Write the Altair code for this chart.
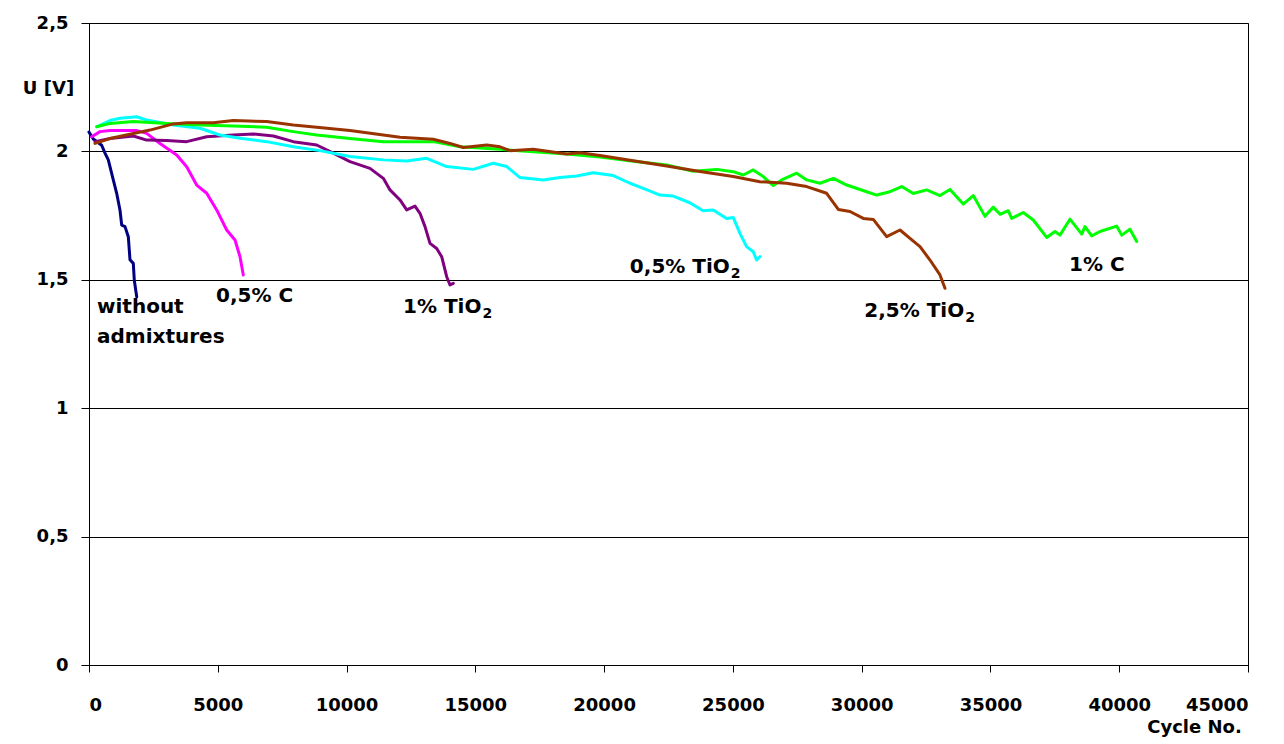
import altair as alt
import pandas as pd

# ---- data ----
series_names = ["1% C", "0,5% TiO2", "2,5% TiO2", "1% TiO2", "0,5% C", "without admixtures"]
series_colors = ["#00FF00", "#00FFFF", "#993300", "#800080", "#FF00FF", "#000080"]

wa_x = [0, 167, 493, 621, 749, 943, 1075, 1204, 1270, 1398, 1526, 1592, 1720, 1759, 1852]
wa_y = [2.075, 2.048, 2.024, 1.993, 1.967, 1.889, 1.837, 1.771, 1.713, 1.707, 1.668, 1.578, 1.564, 1.498, 1.434]

c05_x = [105, 427, 815, 1852, 2240, 2757, 3405, 3793, 4181, 4570, 4958, 5346, 5669, 5863, 5991]
c05_y = [2.057, 2.077, 2.081, 2.081, 2.070, 2.031, 1.986, 1.940, 1.869, 1.837, 1.772, 1.694, 1.655, 1.590, 1.519]

t1_x = [233, 815, 1720, 2240, 3017, 3793, 4570, 5605, 6382, 7159, 7932, 8841, 9486, 10133, 10910,
        11427, 11687, 12075, 12335, 12657, 12851, 13046, 13240, 13500, 13694, 13888, 14016, 14145]
t1_y = [2.038, 2.050, 2.060, 2.044, 2.042, 2.038, 2.057, 2.064, 2.068, 2.060, 2.038, 2.025, 1.993, 1.960, 1.934,
        1.895, 1.850, 1.811, 1.772, 1.787, 1.759, 1.707, 1.642, 1.622, 1.590, 1.512, 1.480, 1.486]

t05_x = [299, 815, 1204, 1852, 2240, 3273, 4310, 5086, 5863, 6899, 7932, 8968, 10133, 11427, 12335, 13111,
         13888, 14921, 15698, 16219, 16734, 17639, 18288, 18936, 19580, 20357, 21005, 21522, 22170, 22686,
         23327, 23845, 24236, 24756, 25014, 25272, 25532, 25791, 25921, 26050]
t05_y = [2.096, 2.120, 2.129, 2.135, 2.122, 2.103, 2.090, 2.064, 2.051, 2.038, 2.018, 2.003, 1.980, 1.967, 1.963, 1.973,
         1.941, 1.930, 1.954, 1.941, 1.898, 1.889, 1.898, 1.904, 1.917, 1.906, 1.876, 1.856, 1.830, 1.826,
         1.800, 1.769, 1.772, 1.739, 1.743, 1.681, 1.629, 1.609, 1.577, 1.590]

c1_x = [299, 815, 1720, 3017, 4310, 5605, 6899, 7932, 8841, 10133, 11427, 13368, 14404, 15958, 17252, 18547,
        19840, 21134, 22430, 23462, 24368, 25014, 25403, 25791, 26180, 26568, 26894, 27477, 27865, 28381,
        28899, 29419, 30195, 30583, 31100, 31554, 32005, 32525, 33041, 33429, 33945, 34334, 34788, 35110,
        35370, 35692, 35824, 36275, 36663, 37184, 37506, 37700, 38088, 38543, 38671, 38931, 39253, 39902,
        40096, 40418, 40678]
c1_y = [2.096, 2.109, 2.116, 2.109, 2.103, 2.099, 2.094, 2.077, 2.064, 2.050, 2.038, 2.038, 2.018, 2.008, 1.999, 1.990,
        1.978, 1.962, 1.947, 1.923, 1.930, 1.921, 1.908, 1.928, 1.902, 1.867, 1.889, 1.915, 1.889, 1.876,
        1.895, 1.869, 1.843, 1.830, 1.843, 1.863, 1.836, 1.850, 1.828, 1.852, 1.795, 1.828, 1.747, 1.783,
        1.755, 1.769, 1.739, 1.762, 1.733, 1.665, 1.688, 1.674, 1.736, 1.678, 1.707, 1.671, 1.688, 1.709,
        1.674, 1.697, 1.649]

t25_x = [233, 815, 1720, 2368, 3273, 3793, 4826, 5605, 6899, 7932, 8841, 10133, 11427, 12075, 13368, 14016,
         14533, 15441, 15958, 16346, 17252, 18547, 19064, 19840, 21134, 22430, 23725, 25014, 26050, 27088,
         27865, 28640, 29093, 29546, 30063, 30451, 30970, 31489, 31877, 32265, 32653, 33041, 33235]
t25_y = [2.031, 2.050, 2.070, 2.083, 2.107, 2.112, 2.112, 2.120, 2.116, 2.103, 2.094, 2.081, 2.064, 2.055, 2.047, 2.031,
         2.015, 2.025, 2.018, 2.003, 2.008, 1.990, 1.995, 1.984, 1.964, 1.943, 1.922, 1.902, 1.882, 1.876,
         1.863, 1.837, 1.774, 1.766, 1.739, 1.735, 1.668, 1.694, 1.661, 1.629, 1.577, 1.519, 1.467]

label_text = ["without", "admixtures", "0,5% C", "1% TiO", "0,5% TiO", "2,5% TiO", "1% C"]
label_sub = ["", "", "", "2", "2", "2", ""]
label_x = [311, 311, 4931, 12191, 21000, 30100, 38050]
label_y = [1.394, 1.277, 1.437, 1.394, 1.550, 1.377, 1.558]

x_ticks = [0, 5000, 10000, 15000, 20000, 25000, 30000, 35000, 40000, 45000]
y_ticks = [0, 0.5, 1, 1.5, 2, 2.5]

# ---- build tables ----
rows = []
for name, xs, ys in [
    ("without admixtures", wa_x, wa_y),
    ("0,5% C", c05_x, c05_y),
    ("1% TiO2", t1_x, t1_y),
    ("0,5% TiO2", t05_x, t05_y),
    ("1% C", c1_x, c1_y),
    ("2,5% TiO2", t25_x, t25_y),
]:
    for i, (a, b) in enumerate(zip(xs, ys)):
        rows.append({"series": name, "cycle": a, "U": b, "i": i})
df = pd.DataFrame(rows)
lab = pd.DataFrame({"text": label_text, "x": label_x, "y": label_y})

FONT = "DejaVu Sans"
LABEL_SIZE = 20
W, H = 1159, 642
XMAX = 45000

# approximate advance widths (em) of DejaVu Sans Bold, to place subscripts after the text
adv = {"0": .696, "1": .696, "2": .696, "5": .696, ",": .38, "%": 1.002, " ": .348,
       "T": .682, "i": .343, "O": .85}
sub_rows = []
for t, s, x, y in zip(label_text, label_sub, label_x, label_y):
    if s:
        wpx = sum(adv.get(c, 0.65) for c in t) * LABEL_SIZE + 1
        sub_rows.append({"text": s, "x": x + wpx * XMAX / W, "y": y})
sub = pd.DataFrame(sub_rows)

xscale = alt.Scale(domain=[0, XMAX], nice=False, zero=True)
yscale = alt.Scale(domain=[0, 2.5], nice=False)

lines = alt.Chart(df).mark_line(strokeWidth=3, strokeJoin="round", strokeCap="round").encode(
    x=alt.X("cycle:Q", scale=xscale,
            axis=alt.Axis(values=x_ticks, format="d", title="Cycle No.", grid=False,
                          tickSize=7, labelPadding=24, titleX=1105, titleY=62,
                          titleAlign="center", titleBaseline="middle")),
    y=alt.Y("U:Q", scale=yscale,
            axis=alt.Axis(values=y_ticks, title="U [V]", grid=True, tickSize=8, labelPadding=13,
                          labelExpr="replace(toString(datum.value), '.', ',')",
                          titleAngle=0, titleX=-41, titleY=65, titleAlign="center",
                          titleBaseline="middle")),
    color=alt.Color("series:N", scale=alt.Scale(domain=series_names, range=series_colors), legend=None),
    order=alt.Order("i:Q"),
)

labels = alt.Chart(lab).mark_text(align="left", baseline="middle", font=FONT, fontSize=LABEL_SIZE,
                                  fontWeight="bold", color="black").encode(
    x=alt.X("x:Q", scale=xscale),
    y=alt.Y("y:Q", scale=yscale),
    text="text:N",
)

subs = alt.Chart(sub).mark_text(align="left", baseline="middle", font=FONT, fontSize=14,
                                fontWeight="bold", color="black", dy=7).encode(
    x=alt.X("x:Q", scale=xscale),
    y=alt.Y("y:Q", scale=yscale),
    text="text:N",
)

chart = alt.layer(lines, labels, subs).properties(
    width=W, height=H,
    autosize=alt.AutoSizeParams(type="none"),
    padding={"left": 81, "top": 15, "right": 28, "bottom": 76},
    background="white",
).configure_view(stroke="black", strokeWidth=1).configure_axis(
    domainColor="black", tickColor="black", gridColor="black", gridWidth=1, gridOpacity=1,
    labelFont=FONT, labelFontSize=18, labelFontWeight="bold", labelColor="black",
    titleFont=FONT, titleFontSize=18, titleFontWeight="bold", titleColor="black",
    domainWidth=1, tickWidth=1,
)

chart.save("out.html", embed_options={"renderer": "svg", "actions": False})
